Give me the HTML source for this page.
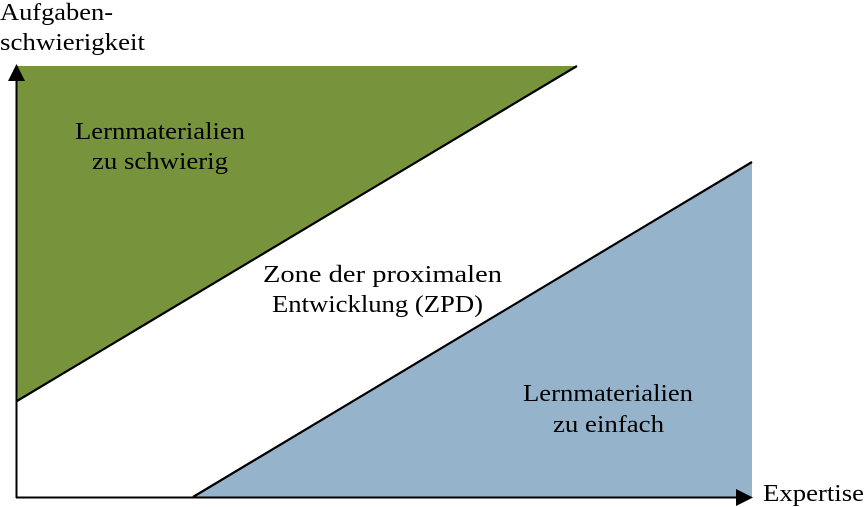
<!DOCTYPE html>
<html><head><style>body{margin:0;background:#fff}svg{display:block}text{font-family:"Liberation Serif","Times New Roman","DejaVu Serif",serif;font-size:24px}</style></head>
<body>
<svg width="865" height="507" viewBox="0 0 865 507" xmlns="http://www.w3.org/2000/svg" fill="#000">
<polygon points="17,66 577,66 17,401" fill="#77933c"/>
<line x1="17" y1="401" x2="577" y2="66" stroke="#000" stroke-width="2.2"/>
<polygon points="193,497 752,162 752,497" fill="#95b3cb"/>
<line x1="193" y1="497" x2="752" y2="162" stroke="#000" stroke-width="2.2"/>
<line x1="16.5" y1="498" x2="16.5" y2="78" stroke="#000" stroke-width="2"/>
<polygon points="16.5,64 8,81 25,81" fill="#000"/>
<line x1="16" y1="497.5" x2="740" y2="497.5" stroke="#000" stroke-width="2"/>
<polygon points="753,497.5 736,489 736,506" fill="#000"/>
<text x="0" y="20" textLength="113" lengthAdjust="spacingAndGlyphs">Aufgaben-</text>
<text x="0" y="50" textLength="145" lengthAdjust="spacingAndGlyphs">schwierigkeit</text>
<text x="763" y="501" textLength="101" lengthAdjust="spacingAndGlyphs">Expertise</text>
<text x="75" y="139" textLength="170" lengthAdjust="spacingAndGlyphs">Lernmaterialien</text>
<text x="92" y="169" textLength="136" lengthAdjust="spacingAndGlyphs">zu schwierig</text>
<text x="263" y="282" textLength="239" lengthAdjust="spacingAndGlyphs">Zone der proximalen</text>
<text x="272" y="312" textLength="211" lengthAdjust="spacingAndGlyphs">Entwicklung (ZPD)</text>
<text x="523" y="401" textLength="170" lengthAdjust="spacingAndGlyphs">Lernmaterialien</text>
<text x="553" y="432" textLength="111" lengthAdjust="spacingAndGlyphs">zu einfach</text>
</svg>
</body></html>
